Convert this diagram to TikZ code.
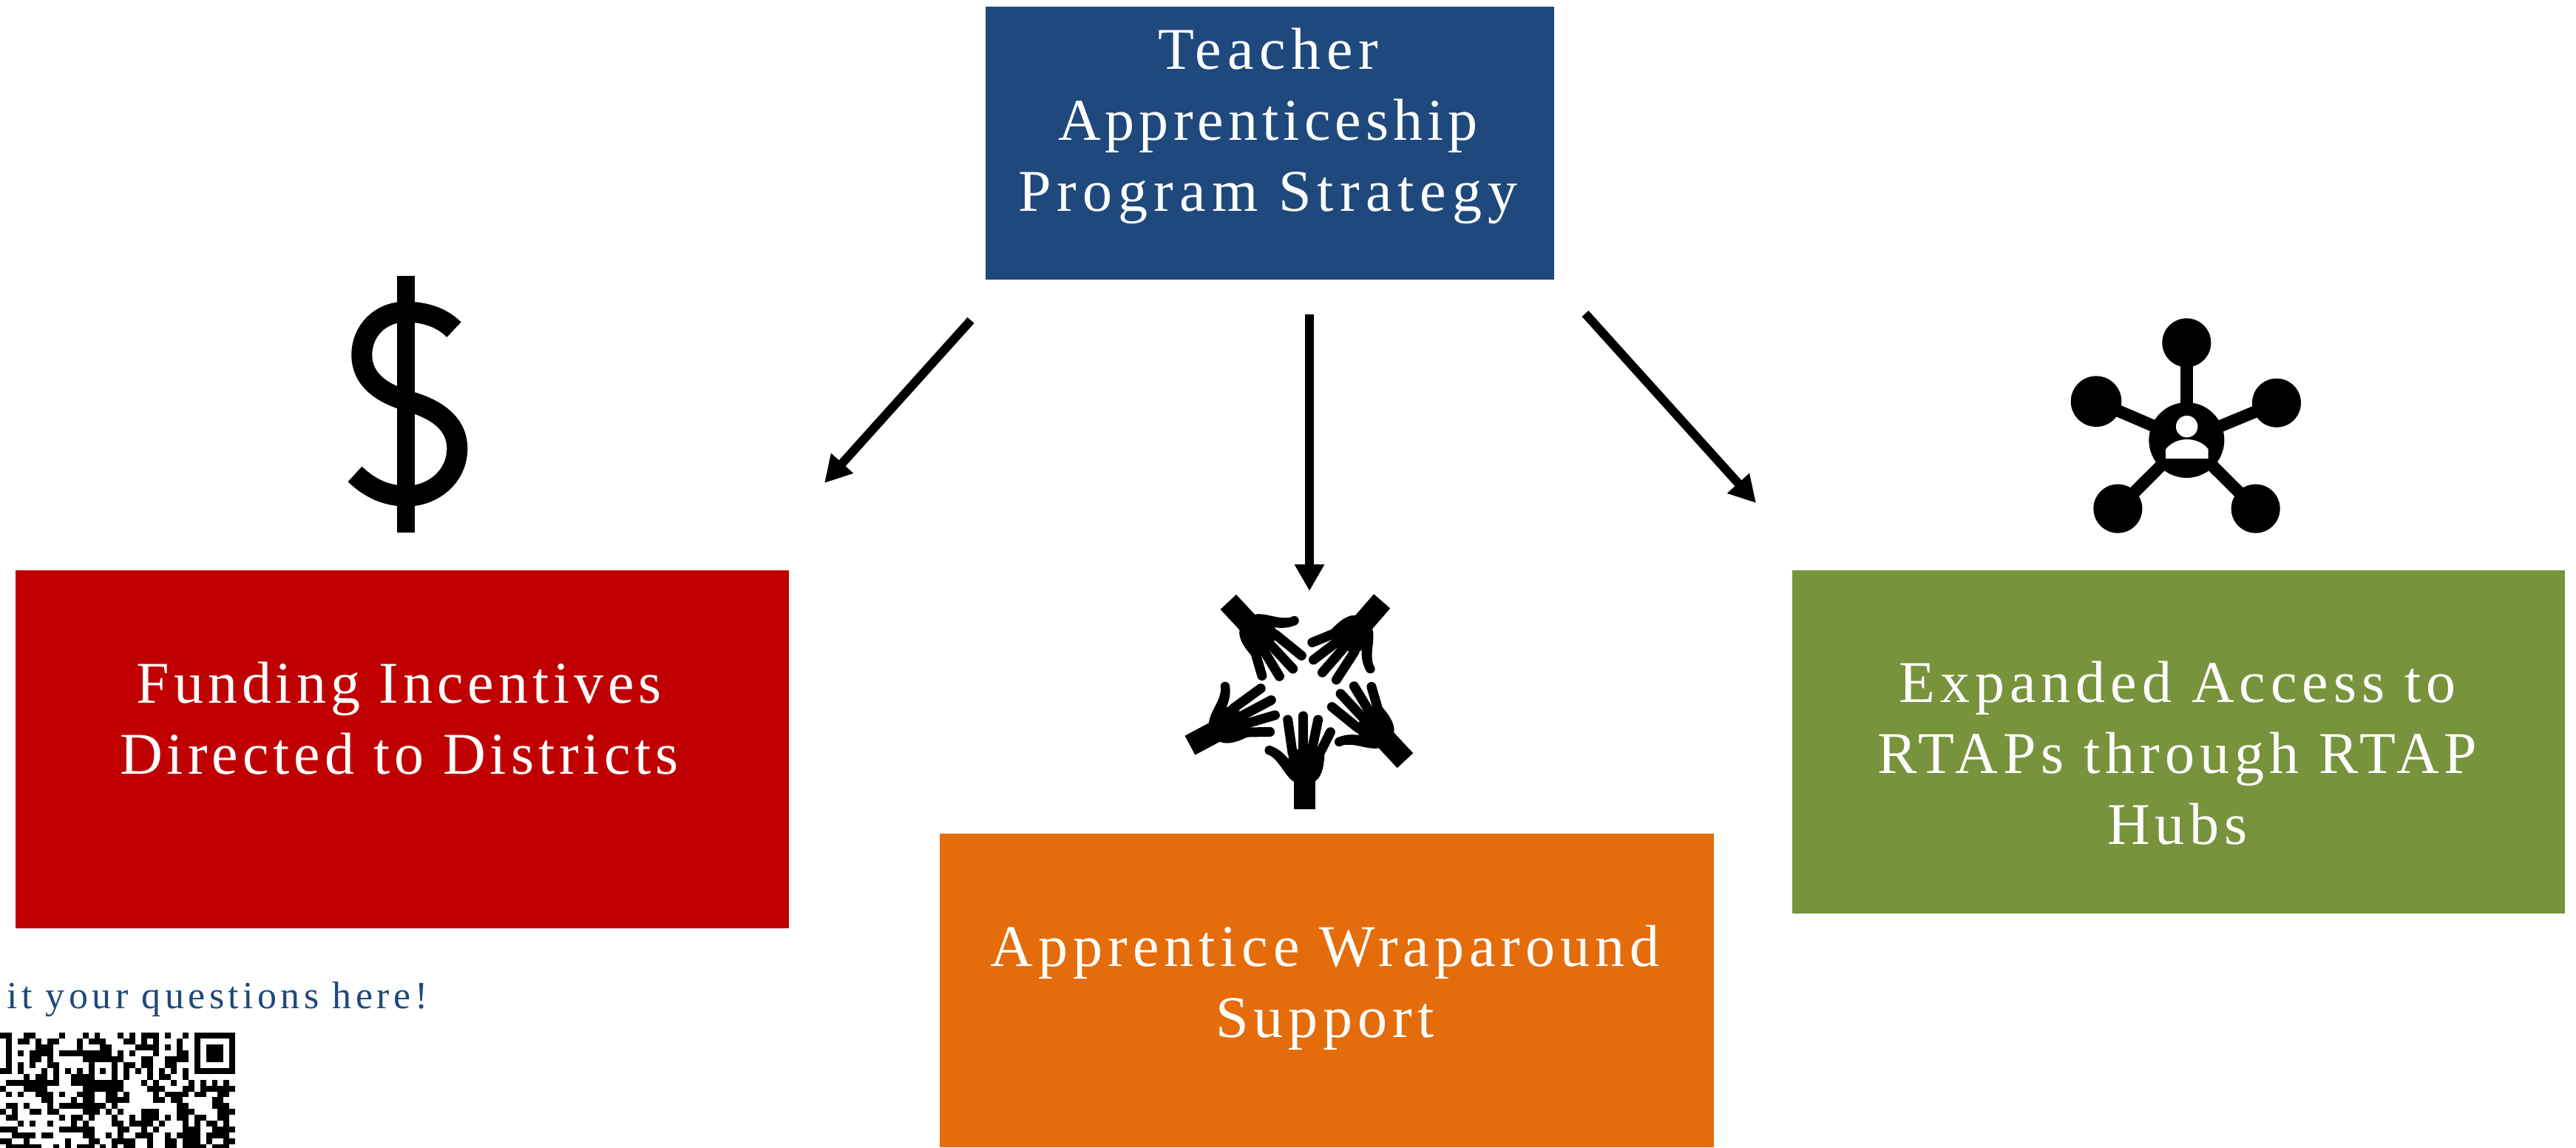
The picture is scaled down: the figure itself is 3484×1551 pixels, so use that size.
\documentclass[tikz,border=0pt]{standalone}
\usepackage{fontspec}
\setmainfont{Liberation Serif}[LetterSpace=9.6]
\newfontfamily\lsa{Liberation Serif}[LetterSpace=7.4]
\newfontfamily\lsb{Liberation Serif}[LetterSpace=8.7]
\newfontfamily\lsc{Liberation Serif}[LetterSpace=7.6]
\newfontfamily\lsd{Liberation Serif}[LetterSpace=10.1]
\newfontfamily\lse{Liberation Serif}[LetterSpace=10.4]
\usetikzlibrary{arrows.meta}
\definecolor{cblue}{HTML}{1F497D}
\definecolor{cred}{HTML}{C00000}
\definecolor{corange}{HTML}{E46C0A}
\definecolor{cgreen}{HTML}{77933C}
\tikzset{
  panel/.style={draw=none,anchor=north west,inner sep=0pt,outer sep=0pt},
  paneltext/.style={text=white,align=center,inner sep=0pt,font=\fontsize{80}{96}\selectfont},
  flow/.style={line width=12pt,-{Triangle[width=38pt,length=36pt]},shorten >=0pt},
  qrcell/.style={fill=black},
}
\newcommand{\myhand}[3]{%
  \begin{scope}[shift={(#1,#2)},rotate=#3,x=.3333pt,y=.3333pt]
    \fill (-44,-2) rectangle (44,125);
    \fill (-44,112) .. controls (-60,135) and (-68,170) .. (-66,210) -- (-56,240) -- (80,240)
      .. controls (80,190) and (75,135) .. (44,112) -- cycle;
    \fill (-44,108) .. controls (-85,135) and (-100,195) .. (-150,220)
       -- (-140,254) .. controls (-110,245) and (-85,225) .. (-62,195) -- cycle;
    \fill (-144,236) circle[radius=6.3pt];
    \begin{scope}[line width=13pt,line cap=round]
      \draw (-69,360) -- (-50,225);
      \draw (-7,375) -- (-7,225);
      \draw (54,360) -- (26,225);
      \draw (104,310) -- (56,215);
    \end{scope}
  \end{scope}}
\begin{document}
\begin{tikzpicture}[x=1pt,y=-1pt]
\useasboundingbox (0,0) rectangle (3484,1551);
% boxes
\node[panel,fill=cblue,minimum width=769pt,minimum height=369pt] (strategy) at (1333,9) {};
\node[panel,fill=cred,minimum width=1046pt,minimum height=484pt] (funding) at (21,771) {};
\node[panel,fill=corange,minimum width=1047pt,minimum height=424pt] (wrap) at (1271,1127) {};
\node[panel,fill=cgreen,minimum width=1045pt,minimum height=464pt] (access) at (2424,771) {};
% labels
\node[paneltext] (strategytext) at (1715,170.5) {Teacher\\{\lsc Apprenticeship}\\{\lsd Program Strategy}};
\node[paneltext] (fundingtext) at (540,971.5) {{\lsa Funding Incentives}\\{\lsa Directed to Districts}};
\node[paneltext] (wraptext) at (1792,1335) {{\lsb Apprentice Wraparound}\\{\lsb Support}};
\node[paneltext] (accesstext) at (2945,1018.5) {{\lsb Expanded Access to}\\{\lsb RTAPs through RTAP}\\{\lsb Hubs}};
\node[anchor=base west,inner sep=0pt,text=cblue,font=\fontsize{52}{60}\selectfont\lse] (ask) at (9,1363) {it your questions here!};
% connectors
\coordinate (a1s) at (1313,433); \coordinate (a1e) at (1115,653);
\coordinate (a2s) at (1771,425); \coordinate (a2e) at (1771,799);
\coordinate (a3s) at (2144,424); \coordinate (a3e) at (2375,680);
\draw[flow] (a1s) -- (a1e);
\draw[flow] (a2s) -- (a2e);
\draw[flow] (a3s) -- (a3e);
% dollar
\begin{scope}[shift={(420,340)},x=.3333pt,y=-.3333pt]
  \fill (352,98) rectangle (424,1140);
  \draw[line width=28pt] (582,317) .. controls (530,265) and (460,245) .. (385,245)
    .. controls (285,245) and (208,320) .. (208,420)
    .. controls (208,520) and (290,575) .. (390,605)
    .. controls (500,635) and (595,690) .. (595,800)
    .. controls (595,910) and (500,992) .. (390,992)
    .. controls (300,992) and (235,955) .. (180,903);
\end{scope}
% hands
\myhand{1764.7}{1093}{0}
\myhand{1610}{1007.3}{-62}
\myhand{1661.7}{814.3}{-137}
\myhand{1868.7}{813.3}{-221}
\myhand{1900}{1027.7}{-317}
% network
\begin{scope}[shift={(2760,400)},x=.3333pt,y=-.3333pt]
  \begin{scope}[line width=16.5pt]
    \draw (592,585) -- (592,190);
    \draw (592,585) -- (225,428);
    \draw (592,585) -- (957,434);
    \draw (592,585) -- (313,863);
    \draw (592,585) -- (872,863);
  \end{scope}
  \fill (592,585) circle[radius=51pt];
  \fill (592,190) circle[radius=33pt];
  \fill (225,428) circle[radius=34.3pt];
  \fill (957,434) circle[radius=33pt];
  \fill (313,863) circle[radius=33pt];
  \fill (872,863) circle[radius=33pt];
  \fill[white] (593,530) circle[radius=14.7pt];
  \fill[white] (507,660) -- (507,622) .. controls (530,595) and (560,582) .. (593,582)
    .. controls (626,582) and (660,595) .. (680,622) -- (680,660) -- cycle;
\end{scope}
% qr code
\begin{scope}
  \def\qm{7.95}\def\qx{0.3}\def\qy{1396}
  % finder patterns
  \fill (\qx+33*\qm,\qy) rectangle (\qx+40*\qm,\qy+7*\qm);
  \fill[white] (\qx+34*\qm,\qy+\qm) rectangle (\qx+39*\qm,\qy+6*\qm);
  \fill (\qx+35*\qm,\qy+2*\qm) rectangle (\qx+38*\qm,\qy+5*\qm);
  \foreach \r/\cols in {
    0/{0,1,4,5,10,14,16,20,22,24,25,26,28,31},
    1/{1,3,4,6,8,9,13,15,16,17,21,22,24,26,30},
    2/{1,6,7,8,13,17,18,23,24,25,26,28,30},
    3/{1,3,5,6,7,8,10,11,12,13,14,15,16,17,18,20,22,26,30,31},
    4/{1,5,6,8,14,15,16,17,18,19,20,24,25,28,29,30,31},
    5/{1,3,5,8,9,15,19,21,22,24,25,28,29},
    6/{0,1,3,7,9,11,13,15,17,19,21,23,25,27,29,31},
    7/{4,6,7,9,12,13,14,15,19,21,25,27,28,31},
    8/{1,2,3,4,5,6,7,8,9,12,13,14,15,16,17,18,19,20,24,26,29,32,34,36,38},
    9/{0,4,5,6,7,14,15,16,17,18,19,20,25,26,27,31,32,34,35,36,37,38,39},
    10/{1,3,6,7,8,10,13,14,15,18,19,21,26,28,29,30,31,33,34,37,38},
    11/{7,8,12,14,15,18,19,20,21,26,27,29,30,36,37},
    12/{1,2,4,8,10,11,12,13,14,15,16,17,19,30,31,36,37,38},
    13/{0,2,5,6,8,9,14,15,16,18,20,24,25,26,30,31,32,37,38,39},
    14/{1,2,10,12,13,15,19,22,24,25,26,28,30,31,33,34,37,38},
    15/{3,5,8,12,14,19,20,22,23,24,25,27,31,33,35,36,38},
    16/{0,1,2,10,11,12,13,14,15,20,21,24,26,31,32,33,36,37,38,39},
    17/{2,3,4,5,7,8,14,15,18,20,23,24,25,28,30,31,32,33,35,36,37,38},
    18/{0,1,4,11,15,16,19,20,21,22,25,28,29,31,32,33,35,38,39},
    19/{1,2,3,4,5,6,9,11,13,14,15,17,19,21,22,25,28,29,31,32,33,34,36,37,38}%
  }{
    \foreach \c in \cols {
      \fill[qrcell] (\qx+\c*\qm,\qy+\r*\qm) rectangle (\qx+\c*\qm+\qm,\qy+\r*\qm+\qm);
    }
  }
\end{scope}
\end{tikzpicture}
\end{document}
